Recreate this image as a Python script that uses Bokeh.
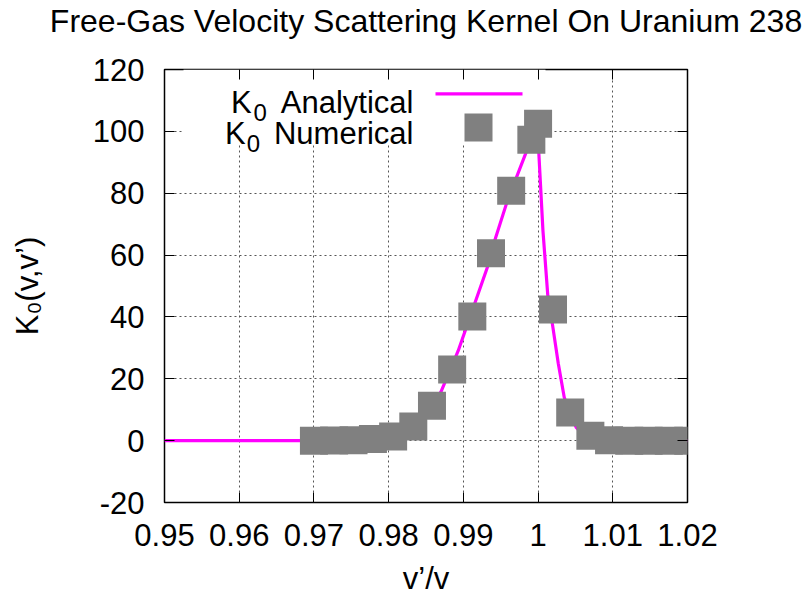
import numpy as np
from bokeh.plotting import figure
from bokeh.models import Range1d, FixedTicker, LinearAxis, Label, BoxAnnotation
from bokeh.embed import file_html
from bokeh.resources import INLINE

# ---------------- data ----------------
title_text = "Free-Gas Velocity Scattering Kernel On Uranium 238"
x_label = "v\u2019/v"
y_label = "K\u2080(v,v\u2019)"
legend_main = ["K", "K"]
legend_sub = ["0", "0"]
legend_names = ["Analytical", "Numerical"]

x_ticks = [0.95, 0.96, 0.97, 0.98, 0.99, 1.00, 1.01, 1.02]
x_tick_labels = ["0.95", "0.96", "0.97", "0.98", "0.99", "1", "1.01", "1.02"]
y_ticks = [-20, 0, 20, 40, 60, 80, 100, 120]
y_tick_labels = ["-20", "0", "20", "40", "60", "80", "100", "120"]

analytical_x = [0.950, 0.966, 0.970, 0.9727, 0.9753, 0.9779, 0.9806, 0.9833,
                0.9858, 0.9870, 0.9893, 0.9915, 0.9933, 0.9942, 0.9959, 0.9984,
                0.9999, 1.0001, 1.00065, 1.0013, 1.0019, 1.0027, 1.0035, 1.0043,
                1.0051, 1.0060, 1.0075, 1.0095, 1.0120, 1.0200]
analytical_y = [0.0, 0.0, 0.0, 0.05, 0.15, 0.45, 1.3, 4.4,
                10.8, 15.8, 29.0, 44.2, 56.6, 64.7, 77.6, 93.2,
                102.0, 93.0, 68.0, 47.0, 38.0, 25.0, 14.0, 8.5,
                4.3, 2.0, 0.6, 0.1, 0.0, 0.0]

numerical_x = [0.9700, 0.9727, 0.9753, 0.9779, 0.9806, 0.9833, 0.9858, 0.9885,
               0.9912, 0.9937, 0.9964, 0.9991, 1.0000, 1.0020, 1.0043, 1.0070,
               1.0095, 1.0122, 1.0148, 1.0175, 1.0201]
numerical_y = [0.0, 0.05, 0.1, 0.5, 1.3, 4.6, 11.3, 23.0,
               40.1, 60.6, 80.8, 97.3, 102.5, 42.4, 9.1, 1.6,
               0.1, 0.0, 0.0, 0.0, 0.0]

# ---------------- styling ----------------
FONT = "Liberation Sans"
FS = "31px"
MAGENTA = "#ff00ff"
GRAY = "#808080"

p = figure(frame_width=523, frame_height=433,
           min_border_left=164, min_border_right=122,
           min_border_top=69, min_border_bottom=98,
           x_range=Range1d(x_ticks[0], x_ticks[-1]),
           y_range=Range1d(y_ticks[0], y_ticks[-1]),
           output_backend="svg", toolbar_location=None,
           background_fill_color="white", border_fill_color="white")

p.outline_line_color = "black"
p.outline_line_width = 1.5
p.outline_line_alpha = 1.0

# title
p.title.text = title_text
p.title.align = "center"
p.title.vertical_align = "top"
p.title.text_font = FONT
p.title.text_font_size = "32px"
p.title.text_font_style = "normal"
p.title.text_color = "black"
p.title.standoff = 0

# main axes
xa = p.xaxis[0]
ya = p.yaxis[0]
xa.ticker = FixedTicker(ticks=x_ticks)
ya.ticker = FixedTicker(ticks=y_ticks)
xa.major_label_overrides = {t: l for t, l in zip(x_ticks, x_tick_labels)}
ya.major_label_overrides = {t: l for t, l in zip(y_ticks, y_tick_labels)}
for ax in (xa, ya):
    ax.axis_line_color = None
    ax.major_tick_in = 10
    ax.major_tick_out = 0
    ax.major_tick_line_color = "black"
    ax.minor_tick_line_color = None
    ax.major_label_text_font = FONT
    ax.major_label_text_font_size = FS
    ax.major_label_text_color = "black"
    ax.axis_label_text_font = FONT
    ax.axis_label_text_font_size = FS
    ax.axis_label_text_font_style = "normal"
    ax.axis_label_text_color = "black"
xa.major_label_standoff = 21
ya.major_label_standoff = 20
xa.axis_label = x_label
xa.axis_label_standoff = 12
ya.axis_label = y_label
ya.axis_label_standoff = 45

# mirrored tick axes (no labels)
top_ax = LinearAxis(ticker=FixedTicker(ticks=x_ticks))
right_ax = LinearAxis(ticker=FixedTicker(ticks=y_ticks))
for ax, ticks in ((top_ax, x_ticks), (right_ax, y_ticks)):
    ax.axis_line_color = None
    ax.major_tick_in = 10
    ax.major_tick_out = 0
    ax.minor_tick_line_color = None
    ax.major_label_overrides = {t: "" for t in ticks}
    ax.major_label_text_font_size = "1px"
    ax.major_label_standoff = 0
p.add_layout(top_ax, "above")
p.add_layout(right_ax, "right")

# invisible spacer between the frame and the title
spacer = LinearAxis(ticker=FixedTicker(ticks=x_ticks))
spacer.axis_line_color = None
spacer.major_tick_in = 0
spacer.major_tick_out = 29
spacer.major_tick_line_color = None
spacer.minor_tick_line_color = None
spacer.major_label_overrides = {t: "" for t in x_ticks}
spacer.major_label_text_font_size = "1px"
spacer.major_label_standoff = 0
p.add_layout(spacer, "above")

# grid
p.xgrid.ticker = FixedTicker(ticks=x_ticks)
p.ygrid.ticker = FixedTicker(ticks=y_ticks)
for g in (p.xgrid, p.ygrid):
    g.grid_line_color = "#555555"
    g.grid_line_dash = "2 3"
    g.grid_line_width = 1

# opaque key background
p.add_layout(BoxAnnotation(left=19, right=381, bottom=359, top=433,
                           left_units="screen", right_units="screen",
                           bottom_units="screen", top_units="screen",
                           fill_color="white", fill_alpha=1.0, line_color=None,
                           level="underlay"))

# data
p.line(analytical_x, analytical_y, line_color=MAGENTA, line_width=3.2)
p.scatter(numerical_x, numerical_y, marker="square", size=28,
          fill_color=GRAY, line_color=None)

# legend samples
p.add_layout(BoxAnnotation(left=271, right=358, bottom=407.1, top=410.3,
                           left_units="screen", right_units="screen",
                           bottom_units="screen", top_units="screen",
                           fill_color=MAGENTA, fill_alpha=1.0, line_color=None))
p.add_layout(BoxAnnotation(left=300, right=328, bottom=361, top=389,
                           left_units="screen", right_units="screen",
                           bottom_units="screen", top_units="screen",
                           fill_color=GRAY, fill_alpha=1.0, line_color=None))

def lab(text, x, y, size=FS, align="left"):
    p.add_layout(Label(x=x, y=y, x_units="screen", y_units="screen", text=text,
                       text_font=FONT, text_font_size=size, text_color="black",
                       text_align=align, text_baseline="alphabetic"))

# legend text
row_base = [400.3, 369.3]
k_left = [66.4, 60.4]
sub_left = [89.0, 82.3]
for i in range(2):
    lab(legend_main[i], k_left[i], row_base[i])
    lab(legend_sub[i], sub_left[i], row_base[i] - 10.6, size="24px")
    lab(legend_names[i], 249, row_base[i], align="right")

open("out.html", "w").write(file_html(p, INLINE))
